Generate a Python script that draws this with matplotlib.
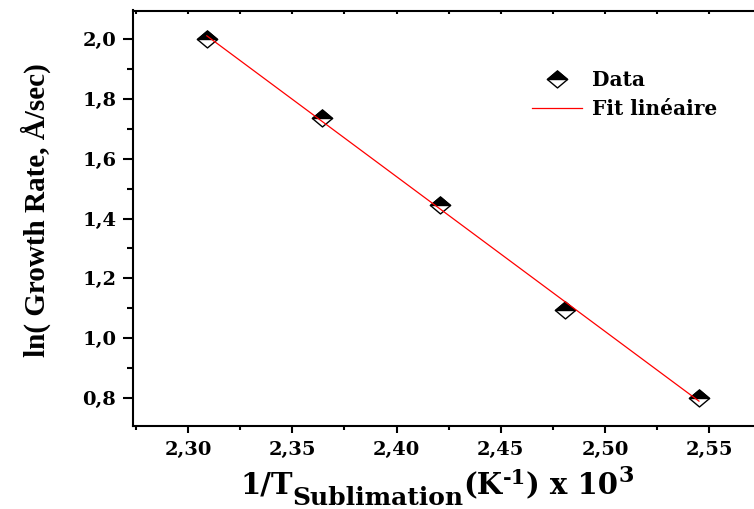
import matplotlib.pyplot as plt
import numpy as np
from matplotlib.ticker import MultipleLocator, FuncFormatter
from matplotlib.path import Path
from matplotlib.legend_handler import HandlerTuple

plt.rcParams['font.family'] = 'DejaVu Serif'
plt.rcParams['font.weight'] = 'bold'

# Données (1/T x 10^3 et ln du taux de croissance)
inv_T = [2.309, 2.364, 2.421, 2.481, 2.545]
ln_rate = [2.002, 1.738, 1.446, 1.094, 0.799]

# Ajustement linéaire
pente, ordonnee = np.polyfit(inv_T, ln_rate, 1)
x_fit = np.array([min(inv_T), max(inv_T)])
y_fit = pente * x_fit + ordonnee

# losange aplati, moitié haute noire
losange = Path([(-1, 0), (0, 0.84), (1, 0), (0, -0.84), (-1, 0)],
               [Path.MOVETO, Path.LINETO, Path.LINETO, Path.LINETO, Path.CLOSEPOLY])
demi_haut = Path([(-1, 0), (0, 0.84), (1, 0), (-1, 0)],
                 [Path.MOVETO, Path.LINETO, Path.LINETO, Path.CLOSEPOLY])

fig = plt.figure(figsize=(7.54, 5.09), dpi=100)
ax = fig.add_axes([133 / 754, 1 - 426 / 509, 1 - 133 / 754, (426 - 10.5) / 509])

h1, = ax.plot(inv_T, ln_rate, linestyle='none', marker=losange, markersize=14.5,
              markerfacecolor='white', markeredgecolor='black', markeredgewidth=1.0, zorder=2)
h2, = ax.plot(inv_T, ln_rate, linestyle='none', marker=demi_haut, markersize=14.5,
              markerfacecolor='black', markeredgecolor='black', markeredgewidth=1.0, zorder=2)
h3, = ax.plot(x_fit, y_fit, color='#ff0000', linewidth=0.9, zorder=3)

ax.set_xlim(2.2736, 2.5714)
ax.set_ylim(0.706, 2.096)

ax.xaxis.set_major_locator(MultipleLocator(0.05))
ax.xaxis.set_minor_locator(MultipleLocator(0.025))
ax.yaxis.set_major_locator(MultipleLocator(0.2))
ax.yaxis.set_minor_locator(MultipleLocator(0.1))
ax.xaxis.set_major_formatter(FuncFormatter(lambda v, p: f'{v:.2f}'.replace('.', ',')))
ax.yaxis.set_major_formatter(FuncFormatter(lambda v, p: f'{v:.1f}'.replace('.', ',')))

for s in ['left', 'bottom', 'top']:
    ax.spines[s].set_linewidth(1.5)
ax.spines['right'].set_visible(False)

ax.tick_params(axis='x', which='major', direction='out', length=5, width=1.5,
               labelsize=14, pad=6)
ax.tick_params(axis='x', which='minor', direction='out', length=3, width=1.5)
ax.tick_params(axis='y', which='major', direction='out', length=7, width=1.5,
               labelsize=14, pad=5)
ax.tick_params(axis='y', which='minor', direction='out', length=4, width=1.5)
# petites graduations vers l'intérieur en haut
ax.tick_params(axis='x', which='both', top=True)
for t in ax.xaxis.get_major_ticks() + ax.xaxis.get_minor_ticks():
    t.tick2line.set_marker(3)
    t.tick2line.set_markersize(2)

# titre de l'axe x, morceau par morceau (indice et exposants)
base = 1 - 494 / 509
t = fig.text(240 / 754, base, '1/T', fontsize=21, fontweight='bold', va='baseline')
morceaux = [('Sublimation', 18, 1 - 505 / 509),
            ('(K', 21, base),
            ('-1', 15, 1 - 484 / 509),
            (') x 10', 21, base),
            ('3', 16, 1 - 482 / 509)]
for txt, taille, yb in morceaux:
    t = ax.annotate(txt, xy=(1, yb), xycoords=(t, 'figure fraction'),
                    fontsize=taille, fontweight='bold', va='baseline', ha='left',
                    annotation_clip=False)

ax.set_ylabel('ln( Growth Rate, Å/sec)', fontsize=21, fontweight='bold',
              family='Liberation Serif')
ax.yaxis.set_label_coords(-(133 - 51) / 621, 0.52)

ax.legend([(h1, h2), h3], ['Data', 'Fit linéaire'],
          handler_map={tuple: HandlerTuple(ndivide=1, pad=0)},
          frameon=False, loc='upper left', bbox_to_anchor=(0.6425, 0.857),
          borderaxespad=0, borderpad=0, handlelength=2.5, handletextpad=0.5,
          labelspacing=0.45, prop={'size': 14.5, 'weight': 'bold'})

fig.savefig('out.png', dpi=100)
